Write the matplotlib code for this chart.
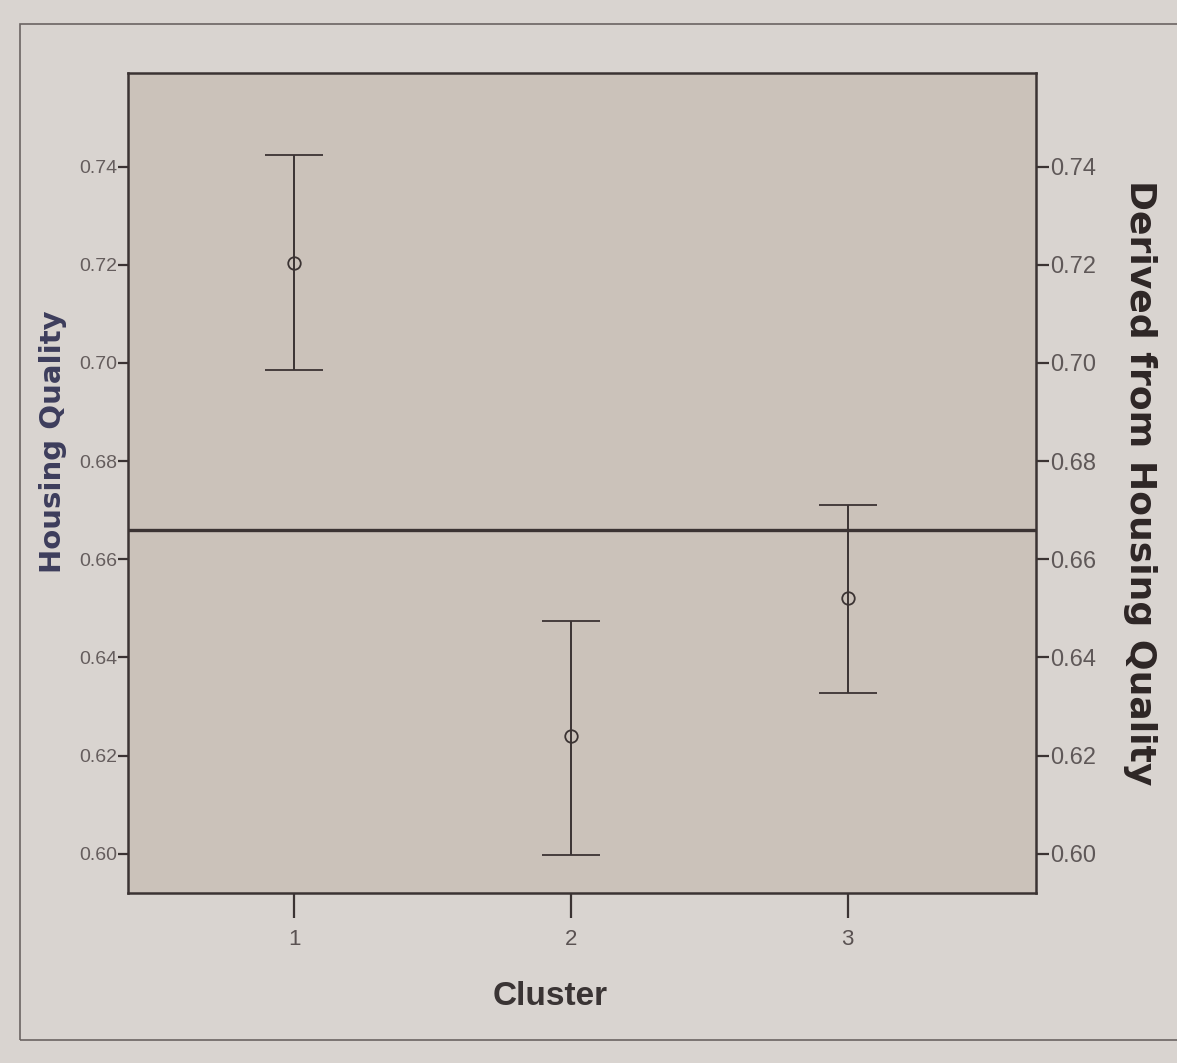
import matplotlib.pyplot as plt
from matplotlib.patches import Rectangle

clusters = [1, 2, 3]
means = [0.7203, 0.6240, 0.6520]
upper = [0.7424, 0.6475, 0.6710]
lower = [0.6986, 0.5998, 0.6328]
grand_mean = 0.6660
yticks = [0.60, 0.62, 0.64, 0.66, 0.68, 0.70, 0.72, 0.74]

ink = '#3b3333'
font = ['Liberation Sans', 'DejaVu Sans']
plt.rcParams['font.family'] = font

fig = plt.figure(figsize=(11.77, 10.63), dpi=100, facecolor='#d9d4d0')
fig.patches.append(Rectangle((0.017, 0.022), 0.99, 0.955, transform=fig.transFigure,
                             fill=False, edgecolor='#6b6462', linewidth=1.2))

ax = fig.add_axes([0.109, 0.160, 0.771, 0.771], facecolor='#cbc2ba')
yerr = [[m - l for m, l in zip(means, lower)], [u - m for m, u in zip(means, upper)]]
ax.errorbar(clusters, means, yerr=yerr, fmt='o', mfc='none', mec=ink, ms=9,
            mew=1.3, ecolor=ink, elinewidth=1.4, capsize=21, capthick=2.2)
ax.axhline(grand_mean, color=ink, linewidth=2.4)

ax.set_xlim(0.4, 3.68)
ax.set_ylim(0.592, 0.759)
ax.set_xticks(clusters)
ax.set_xticklabels([str(c) for c in clusters])
ax.set_yticks(yticks)
ax.set_yticklabels(['%.2f' % v for v in yticks])
for s in ax.spines.values():
    s.set_color(ink)
    s.set_linewidth(1.8)

ax.tick_params(axis='y', direction='out', length=7, width=1.6, color=ink,
               labelcolor='#655d5d', labelsize=14, pad=1)
ax.tick_params(axis='x', direction='out', length=18, width=1.6, color=ink,
               labelcolor='#5a5252', labelsize=16, pad=8)

ax.set_xlabel('Cluster', fontsize=24, color='#3a3434', fontweight='bold')
ax.xaxis.set_label_coords(0.465, -0.108)
ax.set_ylabel('Housing Quality', fontsize=21, fontweight='bold',
              color='#3d3d5c', family='DejaVu Sans')
ax.yaxis.set_label_coords(-0.068, 0.55)

ax2 = ax.twinx()
ax2.set_ylim(ax.get_ylim())
ax2.set_yticks(yticks)
ax2.set_yticklabels(['%.2f' % v for v in yticks])
ax2.tick_params(axis='y', direction='out', length=9, width=1.6, color=ink,
                labelcolor='#5f5858', labelsize=17, pad=1)
for s in ax2.spines.values():
    s.set_visible(False)
ax2.set_ylabel('Derived from Housing Quality', fontsize=26, fontweight='bold',
               color='#2e2626', rotation=-90, va='center', family='DejaVu Sans')
ax2.yaxis.set_label_coords(1.115, 0.5)

fig.savefig('out.png', dpi=100, facecolor=fig.get_facecolor())
